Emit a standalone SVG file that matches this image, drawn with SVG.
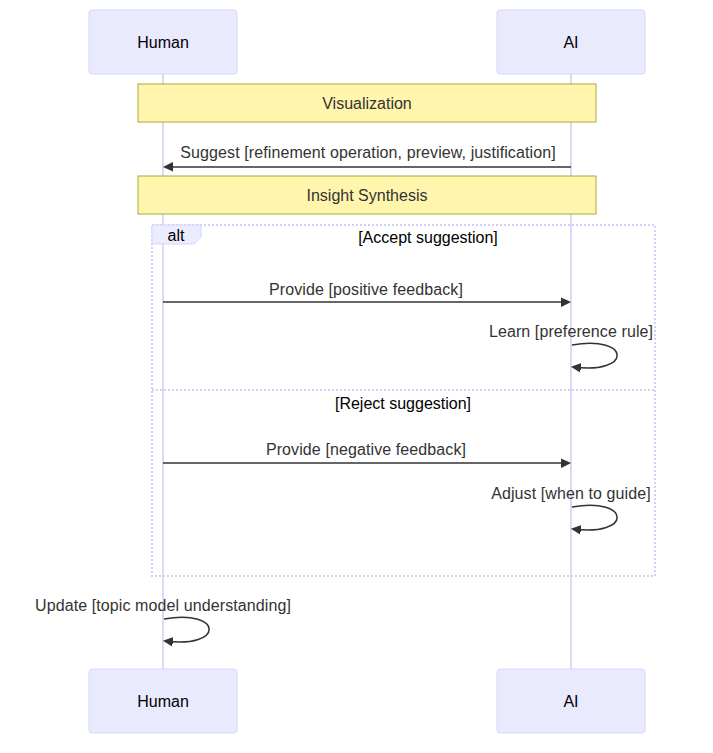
<svg xmlns="http://www.w3.org/2000/svg" width="713" height="753" viewBox="0 0 713 753">
<style>
.actor{fill:#eaeaff;stroke:#d6d6ff;stroke-width:1}
.actorText{font-family:"Liberation Sans",Arial,sans-serif;font-size:16px;fill:#000;text-anchor:middle;dominant-baseline:central}
.life{stroke:#ddd8f5;stroke-width:2;fill:none}
.note{fill:#fff5ad;stroke:#aaaa33;stroke-width:1}
.noteText{font-family:"Liberation Sans",Arial,sans-serif;font-size:16px;fill:#333;text-anchor:middle;dominant-baseline:central}
.msg{stroke:#333;stroke-width:1.5;fill:none}
.msgText{font-family:"Liberation Sans",Arial,sans-serif;font-size:16px;letter-spacing:0.1px;fill:#333;text-anchor:middle;dominant-baseline:central}
.loop{stroke:#d0d0f5;stroke-width:2;stroke-dasharray:2,2;fill:none}
.labelBox{fill:#ececff;stroke:#d6d6ff;stroke-width:1}
.loopText{font-family:"Liberation Sans",Arial,sans-serif;font-size:16px;fill:#000;text-anchor:middle;dominant-baseline:central}
</style>
<defs>
<marker id="arrowhead" viewBox="0 0 12 12" refX="7.9" refY="5" markerUnits="userSpaceOnUse" markerWidth="12" markerHeight="12" orient="auto">
<path d="M -1 0 L 10 5 L 0 10 z" fill="#333"/>
</marker>
</defs>
<g id="lifelines">
<line class="life" x1="163" y1="74" x2="163" y2="669"/>
<line class="life" x1="571" y1="74" x2="571" y2="669"/>
</g>
<g id="actor-human-top"><rect class="actor" x="89" y="10" width="148" height="64" rx="3"/><text class="actorText" x="163" y="42">Human</text></g>
<g id="actor-ai-top"><rect class="actor" x="497" y="10" width="148" height="64" rx="3"/><text class="actorText" x="571" y="42">AI</text></g>
<g id="actor-human-bottom"><rect class="actor" x="89" y="669" width="148" height="64" rx="3"/><text class="actorText" x="163" y="701">Human</text></g>
<g id="actor-ai-bottom"><rect class="actor" x="497" y="669" width="148" height="64" rx="3"/><text class="actorText" x="571" y="701">AI</text></g>
<g id="note-visualization"><rect class="note" x="138" y="84" width="458" height="38"/><text class="noteText" x="367" y="103">Visualization</text></g>
<g id="note-insight"><rect class="note" x="138" y="176" width="458" height="38"/><text class="noteText" x="367" y="195">Insight Synthesis</text></g>
<g id="alt-block">
<rect class="loop" x="152" y="225" width="503" height="351"/>
<line class="loop" x1="152" y1="390" x2="655" y2="390"/>
<polygon class="labelBox" points="152,225 201,225 201,237 194,244 152,244"/>
<text class="loopText" x="176" y="235">alt</text>
<text class="loopText" x="428" y="237">[Accept suggestion]</text>
<text class="loopText" x="403" y="403">[Reject suggestion]</text>
</g>
<g id="connectors">
<text class="msgText" x="368" y="152">Suggest [refinement operation, preview, justification]</text>
<line class="msg" x1="571" y1="167" x2="165" y2="167" marker-end="url(#arrowhead)"/>
<text class="msgText" x="366" y="289">Provide [positive feedback]</text>
<line class="msg" x1="163" y1="302" x2="569" y2="302" marker-end="url(#arrowhead)"/>
<text class="msgText" x="571" y="331">Learn [preference rule]</text>
<path class="msg" d="M 572,345 C 632,335 632,375 573,367" marker-end="url(#arrowhead)"/>
<text class="msgText" x="366" y="449">Provide [negative feedback]</text>
<line class="msg" x1="163" y1="463" x2="569" y2="463" marker-end="url(#arrowhead)"/>
<text class="msgText" x="571" y="493">Adjust [when to guide]</text>
<path class="msg" d="M 572,507 C 632,497 632,537 573,529" marker-end="url(#arrowhead)"/>
<text class="msgText" x="163" y="605">Update [topic model understanding]</text>
<path class="msg" d="M 164,619 C 224,609 224,649 165,641" marker-end="url(#arrowhead)"/>
</g>
</svg>
